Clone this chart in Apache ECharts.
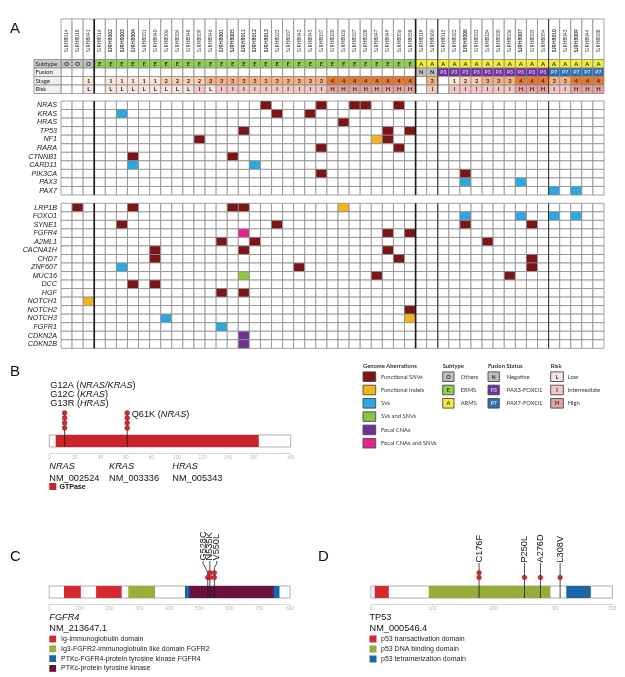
<!DOCTYPE html>
<html>
<head>
<meta charset="utf-8">
<script src="https://cdn.jsdelivr.net/npm/echarts@6.0.0/dist/echarts.min.js"></script>
<style>
html,body{margin:0;padding:0;background:#fff;}
#chart{width:625px;height:677px;}
</style>
</head>
<body>
<div id="chart"></div>
<script>
// ---------------- Panel A data ----------------
const samples = ['SJRHB014','SJRHB018','SJRHB041',
 'SJRHB016','SJRHB002','SJRHB003','SJRHB004','SJRHB031','SJRHB040','SJRHB006','SJRHB034','SJRHB048','SJRHB039',
 'SJRHB046','SJRHB001','SJRHB005','SJRHB011','SJRHB012','SJRHB013','SJRHB023','SJRHB037','SJRHB042','SJRHB045',
 'SJRHB057','SJRHB020','SJRHB026','SJRHB027','SJRHB028','SJRHB047','SJRHB049','SJRHB056','SJRHB058',
 'SJRHB019','SJRHB060',
 'SJRHB015','SJRHB022','SJRHB008','SJRHB033','SJRHB024','SJRHB030','SJRHB036','SJRHB007','SJRHB035','SJRHB054',
 'SJRHB010','SJRHB043','SJRHB009','SJRHB044','SJRHB038'];
const boldSamples = ['SJRHB002','SJRHB003','SJRHB004','SJRHB001','SJRHB005','SJRHB011','SJRHB012','SJRHB013','SJRHB008','SJRHB007','SJRHB010','SJRHB009'];
const subtypes = ['O','O','O','E','E','E','E','E','E','E',
 'E','E','E','E','E','E','E','E','E','E',
 'E','E','E','E','E','E','E','E','E','E',
 'E','E','A','A','A','A','A','A','A','A',
 'A','A','A','A','A','A','A','A','A'];
const fusions = ['','','','','','','','','','',
 '','','','','','','','','','',
 '','','','','','','','','','',
 '','','N','N','P3','P3','P3','P3','P3','P3',
 'P3','P3','P3','P3','P7','P7','P7','P7','P7'];
const stages = ['','','1','','1','1','1','1','1','2',
 '2','2','2','3','3','3','3','3','3','3',
 '3','3','3','3','4','4','4','4','4','4',
 '4','4','','3','','1','2','2','3','3',
 '3','4','4','4','3','3','4','4','4'];
const risks = ['','','L','','L','L','L','L','L','L',
 'L','L','I','L','I','I','I','I','I','I',
 'I','I','I','I','H','H','H','H','H','H',
 'H','H','','I','','I','I','I','I','I',
 'I','H','H','H','I','I','H','H','H'];
const headerRows = ['Subtype','Fusion','Stage','Risk'];
const groupStarts = [3, 32, 34, 44];

const genes1 = ['NRAS','KRAS','HRAS','TP53','NF1','RARA','CTNNB1','CARD11','PIK3CA','PAX3','PAX7'];
const genes2 = ['LRP1B','FOXO1','SYNE1','FGFR4','A2ML1','CACNA1H','CHD7','ZNF607','MUC16','DCC','HGF','NOTCH1','NOTCH2','NOTCH3','FGFR1','CDKN2A','CDKN2B'];

// [gene, sample column, aberration type]
const alterations = [
 ['NRAS',18,'snv'],['NRAS',23,'snv'],['NRAS',26,'snv'],['NRAS',27,'snv'],['NRAS',30,'snv'],
 ['KRAS',5,'sv'],['KRAS',19,'snv'],['KRAS',22,'snv'],
 ['HRAS',25,'snv'],
 ['TP53',16,'snv'],['TP53',29,'snv'],['TP53',31,'snv'],
 ['NF1',12,'snv'],['NF1',28,'indel'],['NF1',29,'snv'],
 ['RARA',23,'snv'],['RARA',30,'snv'],
 ['CTNNB1',6,'snv'],['CTNNB1',15,'snv'],
 ['CARD11',6,'sv'],['CARD11',17,'sv'],
 ['PIK3CA',23,'snv'],['PIK3CA',36,'snv'],
 ['PAX3',36,'sv'],['PAX3',41,'sv'],
 ['PAX7',44,'sv'],['PAX7',46,'sv'],
 ['LRP1B',1,'snv'],['LRP1B',6,'snv'],['LRP1B',15,'snv'],['LRP1B',16,'snv'],['LRP1B',25,'indel'],
 ['FOXO1',36,'sv'],['FOXO1',41,'sv'],['FOXO1',44,'sv'],['FOXO1',46,'sv'],
 ['SYNE1',5,'snv'],['SYNE1',19,'snv'],['SYNE1',36,'snv'],['SYNE1',42,'snv'],
 ['FGFR4',16,'cnasnv'],['FGFR4',29,'snv'],['FGFR4',31,'snv'],
 ['A2ML1',14,'snv'],['A2ML1',17,'snv'],['A2ML1',38,'snv'],
 ['CACNA1H',8,'snv'],['CACNA1H',16,'snv'],['CACNA1H',29,'snv'],
 ['CHD7',8,'snv'],['CHD7',30,'snv'],['CHD7',42,'snv'],
 ['ZNF607',5,'sv'],['ZNF607',21,'snv'],['ZNF607',42,'snv'],
 ['MUC16',16,'svsnv'],['MUC16',28,'snv'],['MUC16',40,'snv'],
 ['DCC',6,'snv'],['DCC',8,'snv'],
 ['HGF',14,'snv'],['HGF',16,'snv'],
 ['NOTCH1',2,'indel'],
 ['NOTCH2',31,'snv'],
 ['NOTCH3',9,'sv'],['NOTCH3',31,'indel'],
 ['FGFR1',14,'sv'],
 ['CDKN2A',16,'cna'],
 ['CDKN2B',16,'cna']
];

const aberrationTypes = ['snv','indel','sv','svsnv','cna','cnasnv'];
const aberrationNames = ['Functional SNVs','Functional Indels','SVs','SVs and SNVs','Focal CNAs','Focal CNAs and SNVs'];
const subtypeKeys = ['O','E','A'];
const subtypeNames = ['Others','ERMS','ARMS'];
const fusionKeys = ['N','P3','P7'];
const fusionNames = ['Negative','PAX3-FOXO1','PAX7-FOXO1'];
const riskKeys = ['L','I','H'];
const riskNames = ['Low','Intermediate','High'];

// ---------------- Panels B-D data ----------------
const rasLength = 189;
const rasTicks = [0,20,40,60,80,100,120,140,160,189];
const rasDomains = [[5,164]];
const rasDomainNames = ['GTPase'];
const rasMutations = [[12,4],[61,4]];
const rasLabels = ['G12A ({i|NRAS/KRAS})\nG12C ({i|KRAS})\nG13R ({i|HRAS})', 'Q61K ({i|NRAS})'];
const rasGenes = ['NRAS','KRAS','HRAS'];
const rasTranscripts = ['NM_002524','NM_003336','NM_005343'];

const fgfr4Length = 802;
const fgfr4Ticks = [0,100,200,300,400,500,600,700,802];
const fgfr4Domains = [[49,105,0],[156,241,0],[263,352,1],[452,767,2],[467,747,3]];
const fgfr4DomainNames = ['Ig-Immunoglobulin domain','Ig3-FGFR2-immunoglobulin like domain FGFR2','PTKc-FGFR4-protein tyrosine kinase FGFR4','PTKc-protein tyrosine kinase'];
const fgfr4Mutations = [[528,1],[535,2],[550,2]];
const fgfr4Labels = ['G528C','N535K','V550L'];

const tp53Length = 393;
const tp53Ticks = [0,100,200,300,393];
const tp53Domains = [[6,29,0],[94,292,1],[318,358,2]];
const tp53DomainNames = ['p53 transactivation domain','p53 DNA binding domain','p53 tetramerization domain'];
const tp53Mutations = [[176,2],[250,1],[276,1],[308,1]];
const tp53Labels = ['C176F','P250L','A276D','L308V'];

// ---------------- styling ----------------
const ABER_COLORS = {snv:'#7d1517', indel:'#f5b41a', sv:'#2aa8e0', svsnv:'#8cc63f', cna:'#6d3197', cnasnv:'#e4248c'};
const HEADER_COLORS = {
  Subtype:{O:'#bfbfbf', E:'#92cf50', A:'#f1ee3a'},
  Fusion:{N:'#bfbfbf', P3:'#7030a0', P7:'#2c6db5'},
  Stage:{'1':'#fde9d9','2':'#fad2b2','3':'#f5b281','4':'#e6772b'},
  Risk:{L:'#fae3e3', I:'#f3c6c4', H:'#e5a19f'}
};
const HEADER_TEXT = {P3:'#d9c6ec', P7:'#d3e3f6'};
const FGFR4_COLORS = ['#d42a2f','#9aae3a','#1e64a8','#6b0f3d'];
const TP53_COLORS = ['#d42a2f','#95ad37','#1e64a8'];
const RAS_COLORS = ['#cc2229'];
const GRID_LINE = '#8c8c8c';
const SANS = 'Liberation Sans';
const CAL = 'Lato';

// ---------------- builders ----------------
function buildCells(genes) {
  const data = [], types = [];
  genes.forEach((g, r) => {
    samples.forEach((s, c) => {
      data.push([c, r]);
      const a = alterations.find(x => x[0] === g && x[1] === c);
      types.push(a ? a[2] : null);
    });
  });
  return {data, types};
}
const cells1 = buildCells(genes1);
const cells2 = buildCells(genes2);

function cellRenderer(types) {
  return function (params, api) {
    const p = api.coord([api.value(0), api.value(1)]);
    const s = api.size([1, 1]);
    const t = types[params.dataIndex];
    return {type:'rect', shape:{x:p[0]-s[0]/2, y:p[1]-s[1]/2, width:s[0], height:s[1]},
      style:{fill: t ? ABER_COLORS[t] : '#fff', stroke: GRID_LINE, lineWidth: 0.8}};
  };
}

const headerValues = [subtypes, fusions, stages, risks];
const headerData = [];
headerRows.forEach((row, r) => samples.forEach((s, c) => headerData.push([c, r])));

function headerRenderer(params, api) {
  const c = api.value(0), r = api.value(1);
  const p = api.coord([c, r]);
  const s = api.size([1, 1]);
  const v = headerValues[r][c];
  const row = headerRows[r];
  const fill = v ? HEADER_COLORS[row][v] : '#fff';
  return {type:'group', children:[
    {type:'rect', shape:{x:p[0]-s[0]/2, y:p[1]-s[1]/2, width:s[0], height:s[1]},
      style:{fill, stroke: GRID_LINE, lineWidth: 0.8}},
    {type:'text', x:p[0], y:p[1]+0.3, style:{text: v, fill: HEADER_TEXT[v] || '#2a2a2a',
      fontSize: v.length > 1 ? 5.2 : 5.8, fontFamily: CAL, fontWeight:'bold', align:'center', verticalAlign:'middle'}}
  ]};
}

function headerLabelRenderer(params, api) {
  const r = api.value(1);
  const p = api.coord([0, r]);
  const s = api.size([1, 1]);
  return {type:'group', children:[
    {type:'rect', shape:{x:p[0]-s[0]/2, y:p[1]-s[1]/2, width:s[0], height:s[1]},
      style:{fill: r === 0 ? '#c8c8c8' : '#f0f0f0', stroke: GRID_LINE, lineWidth: 0.8}},
    {type:'text', x:p[0]-s[0]/2+1.5, y:p[1]+0.3, style:{text: headerRows[r], fill:'#222',
      fontSize: 6, fontFamily: CAL, align:'left', verticalAlign:'middle'}}
  ]};
}

function idRenderer(params, api) {
  const c = api.value(0);
  const p = api.coord([c, 0]);
  const s = api.size([1, 1]);
  const bold = boldSamples.indexOf(samples[c]) >= 0;
  return {type:'group', children:[
    {type:'rect', shape:{x:p[0]-s[0]/2, y:p[1]-s[1]/2, width:s[0], height:s[1]},
      style:{fill:'#fff', stroke: GRID_LINE, lineWidth: 0.8}},
    {type:'text', x:p[0], y:p[1]+1.5, rotation: Math.PI/2,
      style:{text: samples[c], fill:'#333', fontSize: 4.8, fontFamily: CAL, fontWeight: bold ? 'bold' : 'normal',
        align:'center', verticalAlign:'middle'}}
  ]};
}

function sepRenderer(params, api) {
  const c = api.value(0);
  const p = api.coord([c, 0]);
  const s = api.size([1, 1]);
  const x = p[0] - s[0]/2;
  const cs = params.coordSys;
  const thick = params.dataIndex < 2;
  return {type:'line', shape:{x1:x, y1:cs.y, x2:x, y2:cs.y+cs.height},
    style:{stroke: thick ? '#1a1a1a' : '#3a3a3a', lineWidth: thick ? 1.6 : 1.1}};
}
const sepData = groupStarts.map(c => [c, 0]);

// lollipop helpers
function domainRenderer(colors, bar) {
  return function (params, api) {
    const a = api.coord([api.value(0), bar[1]]);
    const b = api.coord([api.value(1), bar[0]]);
    const ci = api.value(2);
    return {type:'rect', shape:{x:a[0], y:a[1], width:b[0]-a[0], height:b[1]-a[1]},
      style:{fill: colors[isNaN(ci) ? 0 : ci], stroke:null}};
  };
}
function backboneRenderer(bar) {
  return function (params, api) {
    const a = api.coord([0, bar[1]]);
    const b = api.coord([api.value(0), bar[0]]);
    return {type:'rect', shape:{x:a[0], y:a[1], width:b[0]-a[0], height:b[1]-a[1]},
      style:{fill:'#fff', stroke:'#9a9a9a', lineWidth:0.8}};
  };
}
function lollipopRenderer(cfg, muts, labels) {
  return function (params, api) {
    const i = params.dataIndex;
    const pos = muts[i][0], n = muts[i][1];
    const base = api.coord([pos, cfg.bar[0]]);
    const topC = api.coord([pos, cfg.circleBase + (n-1)*cfg.circleStep]);
    const children = [];
    if (cfg.labelMode === 'rot') {
      const dx = (cfg.labelDx || [])[i] || 0;
      const lb = api.coord([pos, cfg.labelLevel]);
      const lx = lb[0] + dx;
      const bend = api.coord([pos, cfg.circleBase + (n-1)*cfg.circleStep + 1.0]);
      const bend2 = api.coord([pos, cfg.labelLevel - 0.5]);
      children.push({type:'polyline', shape:{points:[[base[0], base[1]], [bend[0], bend[1]], [lx, bend2[1]], [lx, lb[1]]]},
        style:{stroke:'#1a1a1a', lineWidth:0.8, fill:null}});
      children.push({type:'text', x:lx, y:lb[1] - 0.5, rotation: Math.PI/2,
        style:{text: labels[i], fill:'#111', fontSize: cfg.fontSize, fontFamily: SANS, align:'left', verticalAlign:'middle'}});
    } else {
      children.push({type:'line', shape:{x1:base[0], y1:base[1], x2:topC[0], y2:topC[1]}, style:{stroke:'#1a1a1a', lineWidth:0.8}});
      const mode = cfg.labelModes[i];
      const rich = {i:{fontStyle:'italic', fontSize: cfg.fontSize, fontFamily: SANS, fill:'#111', lineHeight: 8.6}};
      if (mode === 'above') {
        children.push({type:'text', x: topC[0]-14.3, y: topC[1]-5.6,
          style:{text: labels[i], fill:'#111', fontSize: cfg.fontSize, fontFamily: SANS, lineHeight: 8.6,
            align:'left', verticalAlign:'bottom', rich}});
      } else {
        children.push({type:'text', x: topC[0]+4.5, y: topC[1]+1.2,
          style:{text: labels[i], fill:'#111', fontSize: cfg.fontSize, fontFamily: SANS, lineHeight: 8.6,
            align:'left', verticalAlign:'middle', rich}});
      }
    }
    for (let k = 0; k < n; k++) {
      const c = api.coord([pos, cfg.circleBase + k*cfg.circleStep]);
      children.push({type:'circle', shape:{cx:c[0], cy:c[1], r:cfg.r},
        style:{fill:'#d1282d', stroke:'#7b1b1b', lineWidth:0.5}});
    }
    return {type:'group', children};
  };
}

const BAR = [1.2, 3.6];
const cfgB = {bar: BAR, circleBase: 5.0, circleStep: 1.0, r: 2.4, fontSize: 9.2, labelModes:['above','right']};
const cfgC = {bar: BAR, circleBase: 5.3, circleStep: 0.95, r: 2.3, fontSize: 9.2, labelMode:'rot', labelLevel: 8.6, labelDx:[-4.6, 0, 2.4]};
const cfgD = {bar: BAR, circleBase: 5.3, circleStep: 0.95, r: 2.3, fontSize: 9.2, labelMode:'rot', labelLevel: 8.2};

function lolliX(len, ticks, gridIndex) {
  return {type:'value', gridIndex, min:0, max:len,
    axisLine:{show:true, onZero:false, lineStyle:{color:'#cfcfcf', width:0.8}},
    axisTick:{show:true, length:2, customValues: ticks, lineStyle:{color:'#cfcfcf', width:0.6}},
    axisLabel:{show:true, customValues: ticks, fontSize:4.8, color:'#b8b8b8', margin:2.5, fontFamily: SANS},
    splitLine:{show:false}};
}
function lolliY(gridIndex) {
  return {type:'value', gridIndex, min:0, max:10.6, show:false, splitLine:{show:false}};
}

// ---------------- graphic (panel letters, legends, gene info) ----------------
const graphics = [];
function gtext(x, y, text, opts) {
  graphics.push({type:'text', x, y, silent:true, style:Object.assign({text, fill:'#111', fontFamily: SANS, fontSize:10,
    align:'left', verticalAlign:'middle'}, opts || {})});
}
function grect(x, y, w, h, fill, stroke, lw) {
  graphics.push({type:'rect', silent:true, shape:{x, y, width:w, height:h},
    style:{fill, stroke: stroke || null, lineWidth: lw || 0}});
}
gtext(10, 28.5, 'A', {fontSize:15});
gtext(10, 372, 'B', {fontSize:15});
gtext(10, 557, 'C', {fontSize:15});
gtext(318, 557, 'D', {fontSize:15});

// Panel A legend
const legendCols = [
  {title:'Genome Aberrations', x:363, w:12.7, tx:381,
    items: aberrationTypes.map((t, i) => ({fill: ABER_COLORS[t], letter:'', label: aberrationNames[i]}))},
  {title:'Subtype', x:442.7, w:11.3, tx:460.7,
    items: subtypeKeys.map((k, i) => ({fill: HEADER_COLORS.Subtype[k], letter:k, label: subtypeNames[i]}))},
  {title:'Fusion Status', x:488, w:11.3, tx:506.7,
    items: fusionKeys.map((k, i) => ({fill: HEADER_COLORS.Fusion[k], letter:k, label: fusionNames[i]}))},
  {title:'Risk', x:550.7, w:12.7, tx:567.7,
    items: riskKeys.map((k, i) => ({fill: HEADER_COLORS.Risk[k], letter:k, label: riskNames[i]}))}
];
legendCols.forEach(col => {
  gtext(col.x, 366, col.title, {fontFamily: CAL, fontSize:5.8, fontWeight:'bold', fill:'#333'});
  col.items.forEach((it, i) => {
    const cy = 376.7 + i*13.3;
    grect(col.x, cy-4.8, col.w, 9.6, it.fill, '#4a4a4a', 0.9);
    if (it.letter) gtext(col.x + col.w/2, cy+0.2, it.letter, {fontFamily: CAL, fontSize:5.4, fontWeight:'bold',
      align:'center', fill: HEADER_TEXT[it.letter] || '#2a2a2a'});
    gtext(col.tx, cy, it.label, {fontFamily: CAL, fontSize:5.8, fill:'#333'});
  });
});

// Panel B gene info
const rasInfoX = [49.3, 109, 172.3];
rasGenes.forEach((g, i) => {
  gtext(rasInfoX[i], 466.7, g, {fontStyle:'italic', fontSize:9.2});
  gtext(rasInfoX[i], 478.3, rasTranscripts[i], {fontSize:9.2});
});
grect(49.3, 483, 7, 7, RAS_COLORS[0]);
gtext(59.5, 486.7, rasDomainNames[0], {fontSize:7, fontWeight:'bold'});

// Panel C info
gtext(49.3, 617.3, 'FGFR4', {fontStyle:'italic', fontSize:9.2});
gtext(49.3, 628.3, 'NM_213647.1', {fontSize:9.2});
fgfr4DomainNames.forEach((n, i) => {
  const cy = 639 + i*9.8;
  grect(49.3, cy-3.4, 6.8, 6.8, FGFR4_COLORS[i]);
  gtext(61, cy, n, {fontSize:7, fill:'#222'});
});
// Panel D info
gtext(369.5, 617.3, 'TP53', {fontSize:9.2});
gtext(369.5, 628.3, 'NM_000546.4', {fontSize:9.2});
tp53DomainNames.forEach((n, i) => {
  const cy = 639 + i*10;
  grect(369.5, cy-3.5, 7, 7, TP53_COLORS[i]);
  gtext(381, cy, n, {fontSize:7, fill:'#222'});
});

// ---------------- option ----------------
const catX = (gi) => ({type:'category', gridIndex: gi, data: samples, show:false});
const geneAxisLabel = {interval:0, fontStyle:'italic', fontSize:7.2, color:'#222', margin:4, fontFamily: SANS};
const option = {
  animation:false,
  backgroundColor:'#fff',
  textStyle:{fontFamily: SANS},
  grid:[
    {left:61, top:19, width:543, height:40.5},
    {left:61, top:59.5, width:543, height:34},
    {left:34, top:59.5, width:27, height:34},
    {left:61, top:101, width:543, height:94},
    {left:61, top:203.3, width:543, height:145},
    {left:49.3, top:400, width:241.4, height:53},
    {left:49.3, top:551, width:240.7, height:53},
    {left:371, top:551, width:241.3, height:53}
  ],
  xAxis:[
    catX(0), catX(1),
    {type:'category', gridIndex:2, data:['label'], show:false},
    catX(3), catX(4),
    lolliX(rasLength, rasTicks, 5),
    lolliX(fgfr4Length, fgfr4Ticks, 6),
    lolliX(tp53Length, tp53Ticks, 7)
  ],
  yAxis:[
    {type:'category', gridIndex:0, data:['ID'], show:false},
    {type:'category', gridIndex:1, data: headerRows, inverse:true, show:false},
    {type:'category', gridIndex:2, data: headerRows, inverse:true, show:false},
    {type:'category', gridIndex:3, data: genes1, inverse:true,
      axisLine:{show:false}, axisTick:{show:false}, axisLabel: geneAxisLabel},
    {type:'category', gridIndex:4, data: genes2, inverse:true,
      axisLine:{show:false}, axisTick:{show:false}, axisLabel: geneAxisLabel},
    lolliY(5), lolliY(6), lolliY(7)
  ],
  series:[
    {type:'custom', xAxisIndex:0, yAxisIndex:0, clip:false, data: samples.map((s, c) => [c, 0]), renderItem: idRenderer},
    {type:'custom', xAxisIndex:1, yAxisIndex:1, clip:false, data: headerData, renderItem: headerRenderer},
    {type:'custom', xAxisIndex:2, yAxisIndex:2, clip:false, data: headerRows.map((r, i) => [0, i]), renderItem: headerLabelRenderer},
    {type:'custom', xAxisIndex:3, yAxisIndex:3, clip:false, data: cells1.data, renderItem: cellRenderer(cells1.types)},
    {type:'custom', xAxisIndex:4, yAxisIndex:4, clip:false, data: cells2.data, renderItem: cellRenderer(cells2.types)},
    {type:'custom', xAxisIndex:0, yAxisIndex:0, clip:false, z:5, data: sepData, renderItem: sepRenderer},
    {type:'custom', xAxisIndex:1, yAxisIndex:1, clip:false, z:5, data: sepData, renderItem: sepRenderer},
    {type:'custom', xAxisIndex:3, yAxisIndex:3, clip:false, z:5, data: sepData, renderItem: sepRenderer},
    {type:'custom', xAxisIndex:4, yAxisIndex:4, clip:false, z:5, data: sepData, renderItem: sepRenderer},
    // panel B
    {type:'custom', xAxisIndex:5, yAxisIndex:5, clip:false, z:2, data:[[rasLength, 0]], renderItem: backboneRenderer(BAR)},
    {type:'custom', xAxisIndex:5, yAxisIndex:5, clip:false, z:3, data: rasDomains.map(d => [d[0], d[1], 0]), renderItem: domainRenderer(RAS_COLORS, BAR)},
    {type:'custom', xAxisIndex:5, yAxisIndex:5, clip:false, z:4, data: rasMutations, renderItem: lollipopRenderer(cfgB, rasMutations, rasLabels)},
    // panel C
    {type:'custom', xAxisIndex:6, yAxisIndex:6, clip:false, z:2, data:[[fgfr4Length, 0]], renderItem: backboneRenderer(BAR)},
    {type:'custom', xAxisIndex:6, yAxisIndex:6, clip:false, z:3, data: fgfr4Domains, renderItem: domainRenderer(FGFR4_COLORS, BAR)},
    {type:'custom', xAxisIndex:6, yAxisIndex:6, clip:false, z:4, data: fgfr4Mutations, renderItem: lollipopRenderer(cfgC, fgfr4Mutations, fgfr4Labels)},
    // panel D
    {type:'custom', xAxisIndex:7, yAxisIndex:7, clip:false, z:2, data:[[tp53Length, 0]], renderItem: backboneRenderer(BAR)},
    {type:'custom', xAxisIndex:7, yAxisIndex:7, clip:false, z:3, data: tp53Domains, renderItem: domainRenderer(TP53_COLORS, BAR)},
    {type:'custom', xAxisIndex:7, yAxisIndex:7, clip:false, z:4, data: tp53Mutations, renderItem: lollipopRenderer(cfgD, tp53Mutations, tp53Labels)}
  ],
  graphic: graphics
};
const chart = echarts.init(document.getElementById('chart'), null, {renderer:'canvas'});
chart.setOption(option);
</script>
</body>
</html>
